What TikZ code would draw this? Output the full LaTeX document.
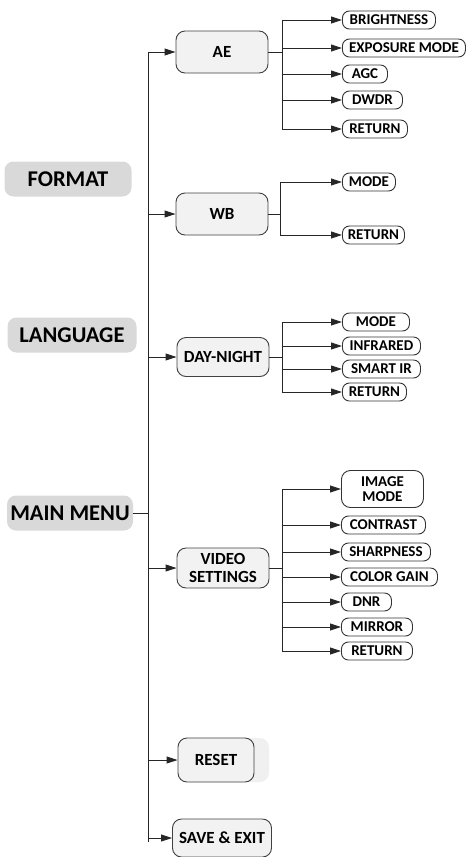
\documentclass[tikz,border=0pt]{standalone}
\usepackage{fontspec}
\setmainfont{Carlito}
\usetikzlibrary{arrows.meta}

\tikzset{
	topbox/.style={fill=black!15, rounded corners=9pt, minimum height=35pt, inner xsep=3pt, font=\fontsize{22.5}{24}\selectfont\bfseries},
	menubox/.style={draw=black!75, fill=black!5, rounded corners=9pt, minimum width=92pt, minimum height=42pt, align=center, font=\fontsize{17}{18}\selectfont\bfseries},
	itembox/.style={draw=black!80, fill=white, rounded corners=7pt, anchor=west, inner xsep=3pt, inner ysep=1pt, minimum height=18pt, align=center, font=\fontsize{15}{15}\selectfont\bfseries},
	link/.style={-{Triangle[length=11pt,width=7pt]}, black!85},
}

\begin{document}
\begin{tikzpicture}[x=1pt,y=-1pt, line width=0.9pt]
\useasboundingbox (0,0) rectangle (471,857);

% left labels
\node[topbox, minimum width=127pt] (format) at (68,179) {FORMAT};
\node[topbox, minimum width=129pt] (language) at (72,335) {LANGUAGE};
\node[topbox, minimum width=126pt] (mainmenu) at (70,513) {MAIN MENU};

% trunk
\coordinate (top) at (148,53);
\coordinate (bottom) at (148,842);
\draw[black!85] (top) -- (bottom);
\draw[black!85] (mainmenu.east) -- (mainmenu -| top);

% menus
\node[menubox] (ae) at (222,52) {AE};
\node[menubox] (wb) at (222,214) {WB};
\node[menubox, minimum height=39pt] (daynight) at (223,357) {DAY-NIGHT};
\node[menubox, minimum height=40pt, inner ysep=1pt] (video) at (223,568) {VIDEO\\SETTINGS};
\fill[black!6, rounded corners=9pt] (178,738) rectangle (269,782);
\node[menubox, minimum width=76pt, minimum height=44pt] (reset) at (216,760) {RESET};
\node[menubox, minimum width=99pt, minimum height=38pt, inner xsep=2pt] (saveexit) at (222,838) {SAVE \& EXIT};

\foreach \m in {ae,wb,daynight,video,reset,saveexit}
	\draw[link] (top |- \m) -- (\m);

% AE items
\coordinate (aebus) at (282,0);
\node[itembox, minimum width=93pt] (brightness) at (342,20) {BRIGHTNESS};
\node[itembox, minimum width=123pt] (exposure) at (342,48) {EXPOSURE MODE};
\node[itembox, minimum width=45pt] (agc) at (342,74) {AGC};
\node[itembox, minimum width=60pt] (dwdr) at (342,100) {DWDR};
\node[itembox, minimum width=65pt] (aereturn) at (342,129) {RETURN};
\draw[black!85] (ae.east) -- (ae -| aebus);
\draw[black!85] (aebus |- brightness) -- (aebus |- aereturn);
\foreach \n in {brightness,exposure,agc,dwdr,aereturn}
	\draw[link] (aebus |- \n) -- (\n);

% WB items
\coordinate (wbbus) at (280,0);
\node[itembox, minimum width=53pt] (wbmode) at (342,182) {MODE};
\node[itembox, minimum width=62pt] (wbreturn) at (342,235) {RETURN};
\draw[black!85] (wb.east) -- (wb -| wbbus);
\draw[black!85] (wbbus |- wbmode) -- (wbbus |- wbreturn);
\foreach \n in {wbmode,wbreturn}
	\draw[link] (wbbus |- \n) -- (\n);

% DAY-NIGHT items
\coordinate (dnbus) at (282,0);
\node[itembox, minimum width=67pt] (dnmode) at (342,322) {MODE};
\node[itembox, minimum width=78pt] (infrared) at (342,346) {INFRARED};
\node[itembox, minimum width=78pt] (smartir) at (342,369) {SMART IR};
\node[itembox, minimum width=64pt] (dnreturn) at (342,392) {RETURN};
\draw[black!85] (daynight.east) -- (daynight -| dnbus);
\draw[black!85] (dnbus |- dnmode) -- (dnbus |- dnreturn);
\foreach \n in {dnmode,infrared,smartir,dnreturn}
	\draw[link] (dnbus |- \n) -- (\n);

% VIDEO SETTINGS items
\coordinate (vsbus) at (282,0);
\node[itembox, minimum width=82pt, minimum height=37pt, rounded corners=9pt] (imagemode) at (341,489) {IMAGE\\MODE};
\node[itembox, minimum width=84pt] (contrast) at (341,525) {CONTRAST};
\node[itembox, minimum width=89pt] (sharpness) at (341,552) {SHARPNESS};
\node[itembox, minimum width=96pt] (colorgain) at (341,577) {COLOR GAIN};
\node[itembox, minimum width=50pt] (dnr) at (341,602) {DNR};
\node[itembox, minimum width=71pt] (mirror) at (341,627) {MIRROR};
\node[itembox, minimum width=71pt] (vsreturn) at (341,651) {RETURN};
\draw[black!85] (video.east) -- (video -| vsbus);
\draw[black!85] (vsbus |- imagemode) -- (vsbus |- vsreturn);
\foreach \n in {imagemode,contrast,sharpness,colorgain,dnr,mirror,vsreturn}
	\draw[link] (vsbus |- \n) -- (\n);
\end{tikzpicture}
\end{document}
